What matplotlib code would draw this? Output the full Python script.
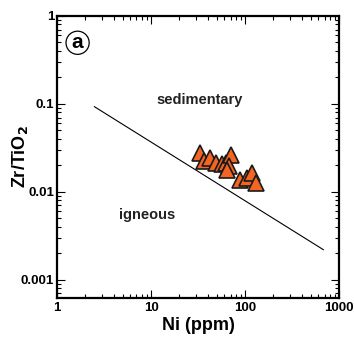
import matplotlib
matplotlib.use("Agg")
import matplotlib.pyplot as plt
from matplotlib.ticker import FixedLocator, FixedFormatter, LogLocator, NullFormatter

plt.rcParams['font.family'] = ['Liberation Sans', 'DejaVu Sans']

# data
ni = [33.5, 36.6, 42.0, 49.0, 56.5, 62.0, 71.0, 68.0, 64.0, 89.0, 104.0, 118.0, 132.0]
zr_tio2 = [0.028, 0.0225, 0.024, 0.0215, 0.0205, 0.0215, 0.026, 0.0195, 0.0175, 0.0135, 0.0145, 0.0165, 0.0125]
line_x = [2.5, 680]
line_y = [0.093, 0.0022]
xticks = [1, 10, 100, 1000]
xticklabels = ["1", "10", "100", "1000"]
yticks = [0.001, 0.01, 0.1, 1]
yticklabels = ["0.001", "0.01", "0.1", "1"]

fig = plt.figure(figsize=(3.54, 3.47), dpi=100)
ax = fig.add_axes([0.161, 0.141, 0.797, 0.813])
ax.set_xscale('log')
ax.set_yscale('log')
ax.set_xlim(1, 1000)
ax.set_ylim(0.00062, 1)

ax.plot(line_x, line_y, color='black', lw=0.8)
ax.plot(ni, zr_tio2, linestyle='none', marker='^', ms=12, mfc='#f26522', mec='#1a1a1a', mew=1.2)

ax.xaxis.set_major_locator(FixedLocator(xticks))
ax.xaxis.set_major_formatter(FixedFormatter(xticklabels))
ax.yaxis.set_major_locator(FixedLocator(yticks))
ax.yaxis.set_major_formatter(FixedFormatter(yticklabels))
ax.xaxis.set_minor_locator(LogLocator(base=10, subs=range(2, 10)))
ax.yaxis.set_minor_locator(LogLocator(base=10, subs=range(2, 10)))
ax.xaxis.set_minor_formatter(NullFormatter())
ax.yaxis.set_minor_formatter(NullFormatter())

ax.tick_params(which='both', direction='in', top=True, right=True, width=0.8)
ax.tick_params(which='major', length=6, labelsize=9.5, pad=3)
ax.tick_params(which='minor', length=3)
ax.tick_params(axis='y', which='major', pad=2)
for lab in ax.get_xticklabels() + ax.get_yticklabels():
    lab.set_fontweight('bold')
for s in ax.spines.values():
    s.set_linewidth(1.6)

ax.set_xlabel('Ni (ppm)', fontsize=13, fontweight='bold', va='center')
ax.xaxis.set_label_coords(0.5, -0.096)
ax.set_ylabel('Zr/TiO$_\\mathbf{2}$', fontsize=13, fontweight='bold', va='center')
ax.yaxis.set_label_coords(-0.13, 0.5)

ax.text(33, 0.11, 'sedimentary', fontsize=10.5, fontweight='bold', ha='center', va='center', color='#222222')
ax.text(9.0, 0.0055, 'igneous', fontsize=10.5, fontweight='bold', ha='center', va='center', color='#222222')
ax.text(0.073, 0.905, 'a', transform=ax.transAxes, fontsize=15, fontweight='bold', ha='center', va='center',
        bbox=dict(boxstyle='circle,pad=0.1', fc='white', ec='black', lw=0.9))

fig.savefig('out.png', dpi=100)
